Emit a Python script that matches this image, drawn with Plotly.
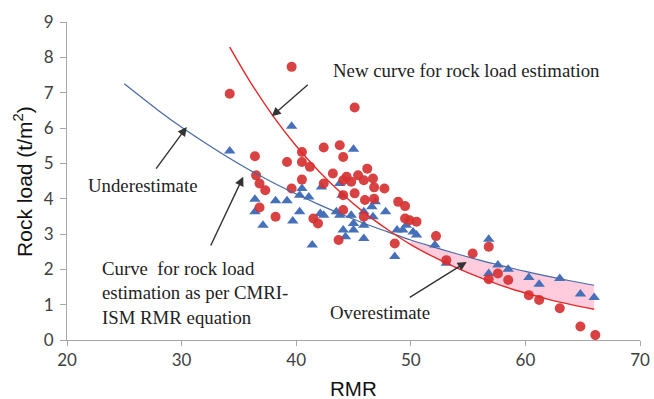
import plotly.graph_objects as go

# ---- data ----
red_rmr = [34.2, 39.6, 45.1, 36.4, 36.5, 36.8, 37.3, 36.8, 38.2, 39.2, 39.6, 40.5, 40.5, 40.5,
           41.2, 41.5, 41.9, 42.4, 42.4, 43.2, 43.8, 44.1, 44.1, 44.1, 44.1, 44.4, 44.8, 45.1,
           45.4, 45.9, 46.0, 46.2, 46.7, 46.8, 47.7, 46.8, 45.9, 43.7, 48.9, 49.5, 49.5, 49.9,
           50.5, 48.6, 52.2, 53.1, 55.4, 56.8, 57.6, 56.8, 58.5, 60.3, 61.2, 63.0, 64.8, 66.1]
red_load = [6.97, 7.73, 6.58, 5.20, 4.66, 4.43, 4.24, 3.75, 3.49, 5.04, 4.29, 5.32, 5.04, 4.54,
            4.90, 3.44, 3.30, 5.45, 4.43, 4.71, 5.51, 5.18, 4.52, 4.10, 3.68, 4.62, 4.48, 4.15,
            4.66, 4.52, 3.96, 4.85, 4.57, 4.32, 4.29, 4.00, 3.49, 2.83, 3.91, 3.79, 3.44, 3.39,
            3.35, 2.73, 2.94, 2.26, 2.45, 2.64, 1.88, 1.72, 1.70, 1.27, 1.13, 0.90, 0.38, 0.14]

blue_rmr = [34.2, 39.6, 45.0, 36.4, 36.4, 37.1, 38.2, 39.2, 39.7, 40.3, 40.3, 40.5, 41.1, 42.2,
            42.1, 41.4, 42.4, 43.5, 43.8, 44.0, 43.8, 44.1, 44.3, 44.8, 45.0, 45.0, 45.9, 45.9,
            45.9, 46.6, 46.7, 46.9, 47.8, 48.8, 49.3, 49.6, 50.2, 50.5, 48.6, 52.1, 53.1, 56.8,
            57.6, 56.8, 58.5, 60.3, 61.2, 63.0, 64.8, 66.0]
blue_load = [5.35, 6.05, 5.40, 3.98, 3.63, 3.25, 3.94, 3.94, 3.37, 4.10, 3.63, 4.29, 4.05, 4.33,
             3.58, 2.69, 3.53, 3.63, 4.43, 4.10, 3.53, 3.11, 2.92, 3.53, 3.30, 3.11, 3.63, 3.25,
             2.87, 3.77, 3.49, 3.91, 3.63, 3.11, 3.11, 3.25, 3.06, 2.97, 2.36, 2.69, 2.17, 2.85,
             2.12, 1.88, 2.00, 1.77, 1.58, 1.74, 1.30, 1.20]

# CMRI-ISM curve (blue line)
cmri_x = [25, 28, 30, 32, 34, 36, 38, 40, 42, 44, 46, 48, 50, 52, 54, 56, 58, 60, 62, 64, 66]
cmri_y = [7.25, 6.49, 6.02, 5.59, 5.18, 4.80, 4.45, 4.13, 3.83, 3.55, 3.29, 3.06, 2.83, 2.63,
          2.44, 2.26, 2.10, 1.94, 1.80, 1.67, 1.55]

# New curve (red line)
new_x = [34.2, 36, 38, 40, 42, 44, 46, 48, 50, 52, 54, 56, 58, 60, 62, 64, 66]
new_y = [8.29, 7.30, 6.33, 5.49, 4.77, 4.14, 3.59, 3.12, 2.70, 2.35, 2.04, 1.77, 1.53, 1.33,
         1.15, 1.00, 0.87]

x_ticks = [20, 30, 40, 50, 60, 70]
y_ticks = [0, 1, 2, 3, 4, 5, 6, 7, 8, 9]

# shaded "overestimate" band between the curves (where blue is above red)
shade_x = [x for x in cmri_x if x >= 50]
shade_upper = [y for x, y in zip(cmri_x, cmri_y) if x >= 50]
shade_lower = [y for x, y in zip(new_x, new_y) if x >= 50]

fig = go.Figure()
fig.add_trace(go.Scatter(x=shade_x, y=shade_upper, mode="lines", line=dict(width=0),
                         line_shape="spline", showlegend=False, hoverinfo="skip"))
fig.add_trace(go.Scatter(x=shade_x, y=shade_lower, mode="lines", line=dict(width=0),
                         line_shape="spline", fill="tonexty",
                         fillcolor="rgba(255,170,200,0.6)", showlegend=False, hoverinfo="skip"))

fig.add_trace(go.Scatter(x=blue_rmr, y=blue_load, mode="markers", name="CMRI",
                         marker=dict(symbol="triangle-up", size=10, color="rgb(70,112,185)",
                                     line=dict(width=0)), showlegend=False))
fig.add_trace(go.Scatter(x=red_rmr, y=red_load, mode="markers", name="Observed",
                         marker=dict(symbol="circle", size=10, color="rgb(214,50,50)",
                                     opacity=0.92, line=dict(width=0)), showlegend=False))

fig.add_trace(go.Scatter(x=cmri_x, y=cmri_y, mode="lines", line_shape="spline",
                         line=dict(color="rgb(70,105,165)", width=1.2), showlegend=False))
fig.add_trace(go.Scatter(x=new_x, y=new_y, mode="lines", line_shape="spline",
                         line=dict(color="rgb(230,40,40)", width=1.4), showlegend=False))

ann_font = dict(family="Liberation Serif, Times New Roman, serif", size=18.8, color="#222222")
arrow_col = "#333333"

annotations = [
    # arrows
    dict(x=37.86, y=6.33, ax=41.14, ay=7.26, xref="x", yref="y", axref="x", ayref="y",
         showarrow=True, arrowhead=2, arrowsize=1.3, arrowwidth=1.4, arrowcolor=arrow_col, text=""),
    dict(x=30.45, y=6.03, ax=27.68, ay=4.81, xref="x", yref="y", axref="x", ayref="y",
         showarrow=True, arrowhead=2, arrowsize=1.3, arrowwidth=1.4, arrowcolor=arrow_col, text=""),
    dict(x=35.38, y=4.62, ax=32.48, ay=2.63, xref="x", yref="y", axref="x", ayref="y",
         showarrow=True, arrowhead=2, arrowsize=1.3, arrowwidth=1.4, arrowcolor=arrow_col, text=""),
    dict(x=54.88, y=2.21, ax=49.78, ay=1.18, xref="x", yref="y", axref="x", ayref="y",
         showarrow=True, arrowhead=2, arrowsize=1.3, arrowwidth=1.4, arrowcolor=arrow_col, text=""),
    # texts
    dict(x=43.04, y=7.63, xref="x", yref="y", text="New curve for rock load estimation",
         showarrow=False, xanchor="left", yanchor="middle", font=ann_font),
    dict(x=26.63, y=4.38, xref="x", yref="y", text="Underestimate",
         showarrow=False, xanchor="center", yanchor="middle", font=ann_font),
    dict(x=22.88, y=1.33, xref="x", yref="y",
         text="Curve  for rock load<br>estimation as per CMRI-<br>ISM RMR equation",
         showarrow=False, xanchor="left", yanchor="middle", align="left", font=ann_font),
    dict(x=47.3, y=0.79, xref="x", yref="y", text="Overestimate",
         showarrow=False, xanchor="center", yanchor="middle", font=ann_font),
    # axis titles
    dict(x=-0.077, y=0.5, xref="paper", yref="paper", text="Rock load (t/m<sup>2</sup>)",
         textangle=-90, showarrow=False, xanchor="center", yanchor="middle",
         font=dict(family="Liberation Sans, Arial, sans-serif", size=21, color="#111111")),
    dict(x=0.5, y=-0.151, xref="paper", yref="paper", text="RMR",
         showarrow=False, xanchor="center", yanchor="middle",
         font=dict(family="Liberation Sans, Arial, sans-serif", size=20.5, color="#111111")),
]

tick_font = dict(family="Lato, Open Sans, sans-serif", size=17, color="#404040")
fig.update_layout(
    width=654, height=399,
    margin=dict(l=67, r=14, t=22, b=59, autoexpand=False),
    plot_bgcolor="white", paper_bgcolor="white",
    showlegend=False,
    annotations=annotations,
    xaxis=dict(range=[20, 70], tickvals=x_ticks, showline=True, linecolor="#A6A6A6",
               linewidth=1, ticks="outside", ticklen=5, tickcolor="#A6A6A6", showgrid=False,
               zeroline=False, tickfont=tick_font),
    yaxis=dict(range=[0, 9], tickvals=y_ticks, showline=True, linecolor="#A6A6A6",
               linewidth=1, ticks="outside", ticklen=6, tickcolor="#A6A6A6", showgrid=False,
               zeroline=False, tickfont=tick_font, ticklabelstandoff=3),
)

# remove the browser's default 8px body margin so the figure fills the window exactly
fig.write_html("out.html", config={"displayModeBar": False},
               post_script="document.body.style.margin='0';document.body.style.overflow='hidden';")
